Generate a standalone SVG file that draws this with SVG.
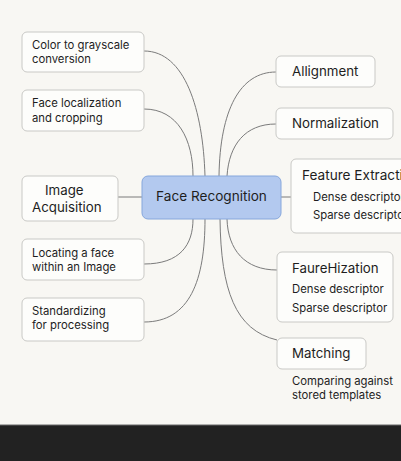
<svg xmlns="http://www.w3.org/2000/svg" width="401" height="461" viewBox="0 0 401 461">
  <style>
    text { font-family: Inter, "Liberation Sans", sans-serif; fill: #1e1e1e; }
    .box { fill: #fdfdfb; stroke: #c9c9c6; stroke-width: 1; }
    .hub { fill: #b3c9ef; stroke: #86a7dc; stroke-width: 1; }
    .sm { font-size: 11.3px; }
    .md { font-size: 13.3px; }
    .lg { font-size: 13.6px; }
    .link { fill: none; stroke: #7b7b7b; stroke-width: 1; }
  </style>
  <rect x="0" y="0" width="401" height="425" fill="#f8f7f3"/>
  <rect x="0" y="425" width="401" height="36" fill="#222222"/>
  <line x1="0" y1="425" x2="401" y2="425" stroke="#666" stroke-width="1"/>

  <g id="connectors">
    <path class="link" d="M144,51 C185,51 203,110 205,176"/>
    <path class="link" d="M144,109 C178,109 193,140 193,176"/>
    <line class="link" x1="118" y1="197" x2="142" y2="197"/>
    <path class="link" d="M144,264 C180,264 193,245 193,219"/>
    <path class="link" d="M144,322 C190,322 205,280 205,219"/>
    <path class="link" d="M276,72 C240,72 220,110 219,176"/>
    <path class="link" d="M276,124 C245,124 229,145 227,176"/>
    <line class="link" x1="281" y1="197" x2="291" y2="197"/>
    <path class="link" d="M277,270 C245,270 228,250 227,219"/>
    <path class="link" d="M277,340 C235,330 221,290 220,219"/>
  </g>

  <g id="color-grayscale">
    <rect class="box" x="22" y="32" width="122" height="40" rx="5"/>
    <text class="sm" x="32" y="49">Color to grayscale</text>
    <text class="sm" x="32" y="63">conversion</text>
  </g>
  <g id="face-localization">
    <rect class="box" x="22" y="90" width="122" height="41" rx="5"/>
    <text class="sm" x="32" y="107">Face localization</text>
    <text class="sm" x="32" y="122">and cropping</text>
  </g>
  <g id="image-acquisition">
    <rect class="box" x="22" y="176" width="96" height="45" rx="5"/>
    <text class="md" x="45" y="195">Image</text>
    <text class="md" x="32" y="212">Acquisition</text>
  </g>
  <g id="locating-face">
    <rect class="box" x="22" y="239" width="122" height="41" rx="5"/>
    <text class="sm" x="32" y="257">Locating a face</text>
    <text class="sm" x="32" y="271">within an Image</text>
  </g>
  <g id="standardizing">
    <rect class="box" x="22" y="298" width="122" height="43" rx="5"/>
    <text class="sm" x="32" y="315">Standardizing</text>
    <text class="sm" x="32" y="329">for processing</text>
  </g>

  <g id="face-recognition">
    <rect class="hub" x="142" y="176" width="139" height="43" rx="6"/>
    <text class="lg" x="211.5" y="201" text-anchor="middle">Face Recognition</text>
  </g>

  <g id="allignment">
    <rect class="box" x="276" y="56" width="99" height="31" rx="5"/>
    <text class="md" x="292" y="76">Allignment</text>
  </g>
  <g id="normalization">
    <rect class="box" x="276" y="108" width="117" height="31" rx="5"/>
    <text class="md" x="292" y="128">Normalization</text>
  </g>
  <g id="feature-extraction">
    <rect class="box" x="291" y="159" width="120" height="74" rx="5"/>
    <text class="lg" x="302" y="180">Feature Extraction</text>
    <text class="sm" x="313" y="201">Dense descriptor</text>
    <text class="sm" x="313" y="219">Sparse descriptor</text>
  </g>
  <g id="faurehization">
    <rect class="box" x="277" y="252" width="116" height="70" rx="5"/>
    <text class="md" x="292" y="273">FaureHization</text>
    <text class="sm" x="292" y="293">Dense descriptor</text>
    <text class="sm" x="292" y="312">Sparse descriptor</text>
  </g>
  <g id="matching">
    <rect class="box" x="277" y="338" width="89" height="31" rx="5"/>
    <text class="md" x="292" y="358">Matching</text>
    <text class="sm" x="292" y="385">Comparing against</text>
    <text class="sm" x="292" y="399">stored templates</text>
  </g>
</svg>
